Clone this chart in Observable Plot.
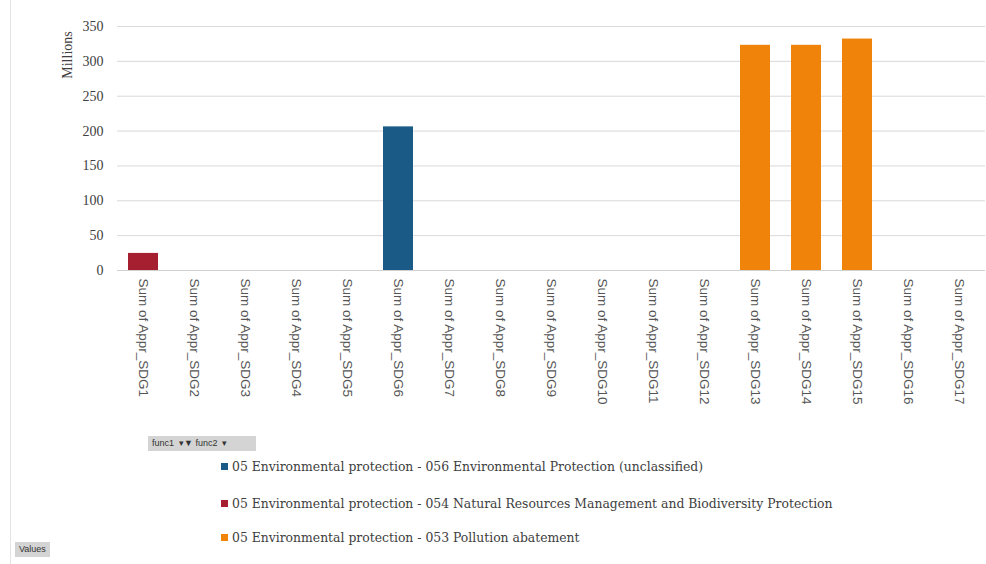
<!DOCTYPE html>
<html>
<head>
<meta charset="utf-8">
<script src="https://cdn.jsdelivr.net/npm/d3@7"></script>
<script src="https://cdn.jsdelivr.net/npm/@observablehq/plot@0.6"></script>
<style>
  html, body { margin: 0; padding: 0; background: #fff; }
  #wrap { position: relative; width: 986px; height: 564px; overflow: hidden; }
  #chart { position: absolute; left: 0; top: 0; }
  .border { position: absolute; left: 10px; top: 0; width: 1px; height: 564px; background: #e4e4e4; }
  .ylab { position: absolute; left: 68px; top: 55px; transform: translate(-50%, -50%) rotate(-90deg);
          font-family: "Liberation Serif", serif; font-size: 14px; color: #404040; white-space: nowrap; }
  .btn { position: absolute; background: #d4d4d4; font-family: "Liberation Sans", sans-serif; font-size: 9px;
         color: #333; line-height: 15px; height: 15px; padding: 0 4px; white-space: nowrap; }
  .legend { position: absolute; left: 221px; font-family: "DejaVu Serif", serif; font-size: 12.4px; color: #404040;
            white-space: nowrap; line-height: 15px; }
  .legend .sw { display: inline-block; width: 7px; height: 7px; margin-right: 4px; vertical-align: 1px; }
</style>
</head>
<body>
<div id="wrap">
  <div id="chart"></div>
  <div class="border"></div>
  <div class="ylab">Millions</div>
  <div class="btn" style="left:148px; top:436px; width:100px;">func1 &nbsp;▾▼ func2 &nbsp;▾</div>
  <div class="btn" style="left:15px; top:542px;">Values</div>
  <div id="legend"></div>
</div>
<script>
const categories = ["Sum of Appr_SDG1","Sum of Appr_SDG2","Sum of Appr_SDG3","Sum of Appr_SDG4","Sum of Appr_SDG5",
  "Sum of Appr_SDG6","Sum of Appr_SDG7","Sum of Appr_SDG8","Sum of Appr_SDG9","Sum of Appr_SDG10","Sum of Appr_SDG11",
  "Sum of Appr_SDG12","Sum of Appr_SDG13","Sum of Appr_SDG14","Sum of Appr_SDG15","Sum of Appr_SDG16","Sum of Appr_SDG17"];
const seriesNames = [
  "05 Environmental protection - 056 Environmental Protection (unclassified)",
  "05 Environmental protection - 054 Natural Resources Management and Biodiversity Protection",
  "05 Environmental protection - 053 Pollution abatement"
];
const seriesColors = ["#1a5a86", "#a61f31", "#f0840b"];
const unclassified     = [0,0,0,0,0,206,0,0,0,0,0,0,0,0,0,0,0];
const naturalResources = [24.5,0,0,0,0,0,0,0,0,0,0,0,0,0,0,0,0];
const pollution        = [0,0,0,0,0,0,0,0,0,0,0,0,323,323,332,0,0];
const yTicks = [0,50,100,150,200,250,300,350];

const seriesValues = [unclassified, naturalResources, pollution];
const table = [];
seriesNames.forEach((s, si) => categories.forEach((c, ci) => {
  if (seriesValues[si][ci] > 0) table.push({category: c, series: s, value: seriesValues[si][ci]});
}));

const chart = Plot.plot({
  width: 986,
  height: 430,
  marginLeft: 117,
  marginRight: 1,
  marginTop: 26,
  marginBottom: 160,
  style: {fontFamily: "Liberation Sans, sans-serif"},
  x: {domain: categories, paddingInner: 0.41, paddingOuter: 0.205, label: null, tickSize: 0, tickRotate: 90, tickPadding: 9},
  y: {domain: [0, 350], ticks: yTicks, label: null, tickSize: 0, tickPadding: 14},
  color: {domain: seriesNames, range: seriesColors},
  marks: [
    Plot.ruleY(yTicks.filter(d => d > 0), {stroke: "#d9d9d9", strokeWidth: 1}),
    Plot.ruleY([0], {stroke: "#d0d0d0", strokeWidth: 1}),
    Plot.barY(table, {x: "category", y: "value", fill: "series"}),
    Plot.axisY({ticks: yTicks, tickSize: 0, tickPadding: 14, fontSize: 14, fontFamily: "Liberation Serif, serif", fill: "#404040", label: null}),
    Plot.axisX({tickSize: 0, tickRotate: 90, tickPadding: 8, fontSize: 13.5, fill: "#555", label: null})
  ]
});
document.getElementById("chart").appendChild(chart);

const legendTops = [459, 496, 530];
const leg = document.getElementById("legend");
seriesNames.forEach((s, i) => {
  const d = document.createElement("div");
  d.className = "legend";
  d.style.top = legendTops[i] + "px";
  d.innerHTML = `<span class="sw" style="background:${seriesColors[i]}"></span>`;
  d.appendChild(document.createTextNode(s));
  leg.appendChild(d);
});
</script>
</body>
</html>
